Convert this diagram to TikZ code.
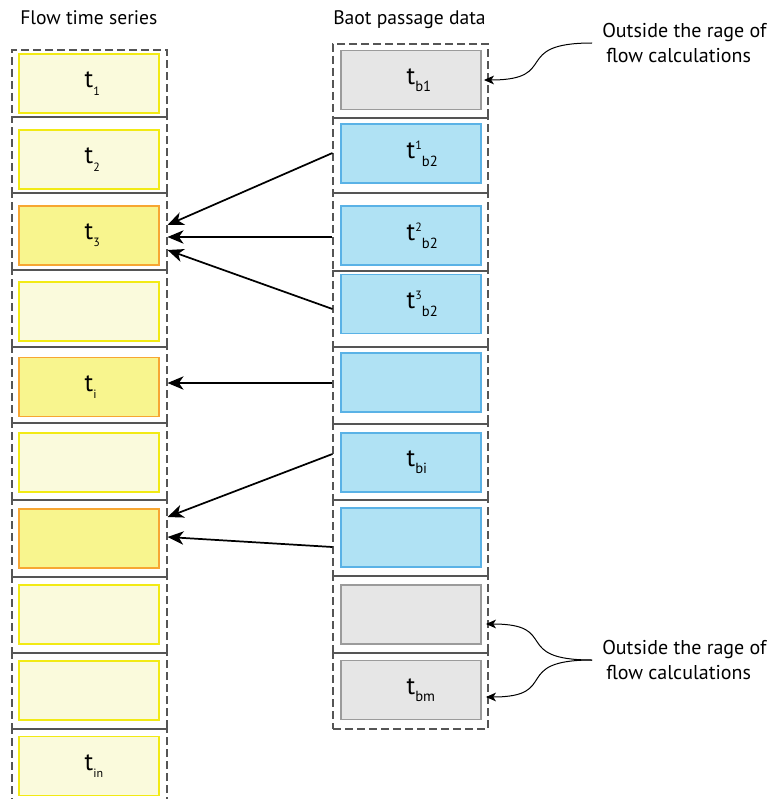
\documentclass[tikz,border=0pt]{standalone}
\usepackage{fontspec}
\setmainfont{PT Sans}
\usetikzlibrary{arrows.meta,calc,fit}
\definecolor{lyfill}{RGB}{250,250,220}
\definecolor{lyline}{RGB}{242,234,20}
\definecolor{hyfill}{RGB}{248,245,142}
\definecolor{hyline}{RGB}{247,166,50}
\definecolor{bfill}{RGB}{176,226,244}
\definecolor{bline}{RGB}{90,178,230}
\definecolor{gfill}{RGB}{230,230,230}
\definecolor{gline}{RGB}{155,155,155}
\definecolor{dashgray}{RGB}{85,85,85}
\newcommand{\tlabL}[1]{t\rlap{\raisebox{-5.5pt}{\fontsize{9}{11}\selectfont #1}}}
\newcommand{\tlabR}[1]{t\rlap{\raisebox{-5.5pt}{\fontsize{11}{13}\selectfont #1}}}
\newcommand{\tlabS}[2]{t\rlap{\raisebox{6.5pt}{\fontsize{9}{11}\selectfont #1}\raisebox{-6pt}{\fontsize{11}{13}\selectfont #2}}}
\begin{document}
\begin{tikzpicture}[x=0.75pt,y=-0.75pt,
  cell/.style={draw=dashgray, line width=0.8pt, dash pattern=on 6pt off 3pt, inner sep=0pt},
  box/.style={rectangle, minimum width=105pt, minimum height=44.25pt, inner sep=0pt, line width=1.4pt, font=\fontsize{19}{22}\selectfont},
  lbox/.style={box, draw=lyline, fill=lyfill},
  hbox/.style={box, draw=hyline, fill=hyfill},
  bbox/.style={box, draw=bline, fill=bfill},
  gbox/.style={box, draw=gline, fill=gfill},
  head/.style={font=\fontsize{14.7}{17}\selectfont, inner sep=0pt, anchor=base west},
  note/.style={font=\fontsize{15}{18.75}\selectfont, align=left, inner xsep=7.5pt, inner ysep=0pt, anchor=west},
  link/.style={line width=1.3pt, -{Stealth[length=12pt,width=10pt,inset=3.5pt]}},
  curv/.style={line width=0.75pt, -{Stealth[length=7.5pt,width=6.5pt,inset=2pt]}}
]
\useasboundingbox (0,0) rectangle (774,799);

% headers
\node[head] (hl) at (20,25) {Flow time series};
\node[head] (hr) at (333,25) {Baot passage data};

% left cells
\node[cell, fit={(12,50) (167,117)}] (lc1) {};
\node[cell, fit={(12,117) (167,193)}] (lc2) {};
\node[cell, fit={(12,193) (167,270)}] (lc3) {};
\node[cell, fit={(12,270) (167,347)}] (lc4) {};
\node[cell, fit={(12,347) (167,423)}] (lc5) {};
\node[cell, fit={(12,423) (167,500)}] (lc6) {};
\node[cell, fit={(12,500) (167,577)}] (lc7) {};
\node[cell, fit={(12,577) (167,653)}] (lc8) {};
\node[cell, fit={(12,653) (167,729)}] (lc9) {};
\node[cell, fit={(12,729) (167,806)}] (lc10) {};

% right cells
\node[cell, fit={(333,44) (488,118)}] (rc1) {};
\node[cell, fit={(333,118) (488,193)}] (rc2) {};
\node[cell, fit={(333,193) (488,271)}] (rc3) {};
\node[cell, fit={(333,271) (488,347)}] (rc4) {};
\node[cell, fit={(333,347) (488,424)}] (rc5) {};
\node[cell, fit={(333,424) (488,500)}] (rc6) {};
\node[cell, fit={(333,500) (488,576)}] (rc7) {};
\node[cell, fit={(333,576) (488,653)}] (rc8) {};
\node[cell, fit={(333,653) (488,729)}] (rc9) {};

% left boxes
\node[lbox] (lb1) at (89,83.5) {\tlabL{1}};
\node[lbox] (lb2) at (89,159.5) {\tlabL{2}};
\node[hbox] (lb3) at (89,235.5) {\tlabL{3}};
\node[lbox] (lb4) at (89,311.5) {};
\node[hbox] (lb5) at (89,387) {\tlabL{i}};
\node[lbox] (lb6) at (89,462.5) {};
\node[hbox] (lb7) at (89,538.5) {};
\node[lbox] (lb8) at (89,614.5) {};
\node[lbox] (lb9) at (89,690.5) {};
\node[lbox] (lb10) at (89,766) {\tlabL{in}};

% right boxes
\node[gbox] (rb1) at (411,80) {\tlabR{b1}};
\node[bbox] (rb2) at (411,153.5) {\tlabS{1}{b2}};
\node[bbox] (rb3) at (411,235.5) {\tlabS{2}{b2}};
\node[bbox] (rb4) at (411,304) {\tlabS{3}{b2}};
\node[bbox] (rb5) at (411,382.5) {};
\node[bbox] (rb6) at (411,462.5) {\tlabR{bi}};
\node[bbox] (rb7) at (411,537.5) {};
\node[gbox] (rb8) at (411,614.5) {};
\node[gbox] (rb9) at (411,690) {\tlabR{bm}};

% arrows between columns
\draw[link] ($(rc2.west)+(0,-2.5)$) -- ($(lc3.east)+(0,-6.5)$);
\draw[link] ($(rc3.west)+(0,5)$) -- ($(lc3.east)+(0,5.5)$);
\draw[link] (rc4.west) -- ($(lc3.east)+(0,18.5)$);
\draw[link] ($(rc5.west)+(0,-2.5)$) -- ($(lc5.east)+(0,-2)$);
\draw[link] ($(rc6.west)+(0,-8)$) -- ($(lc7.east)+(0,-21.5)$);
\draw[link] ($(rc7.west)+(0,9)$) -- ($(lc7.east)+(0,-1.5)$);

% notes
\node[note] (ntop) at (592,43) {Outside the rage of\\\hspace{3pt}flow calculations};
\node[note] (nbot) at (592,660) {Outside the rage of\\\hspace{3pt}flow calculations};

\draw[curv] (ntop.west) .. controls ($(ntop.west)+(-82,0)$) and ($(rb1.east)+(79,0)$) .. ($(rb1.east)+(2,0)$);
\draw[curv] (nbot.west) .. controls ($(nbot.west)+(-82,0)$) and ($(rb8.east)+(79,9.5)$) .. ($(rb8.east)+(4,9.5)$);
\draw[curv] (nbot.west) .. controls ($(nbot.west)+(-82,0)$) and ($(rb9.east)+(79,7)$) .. ($(rb9.east)+(4,7)$);
\end{tikzpicture}
\end{document}
